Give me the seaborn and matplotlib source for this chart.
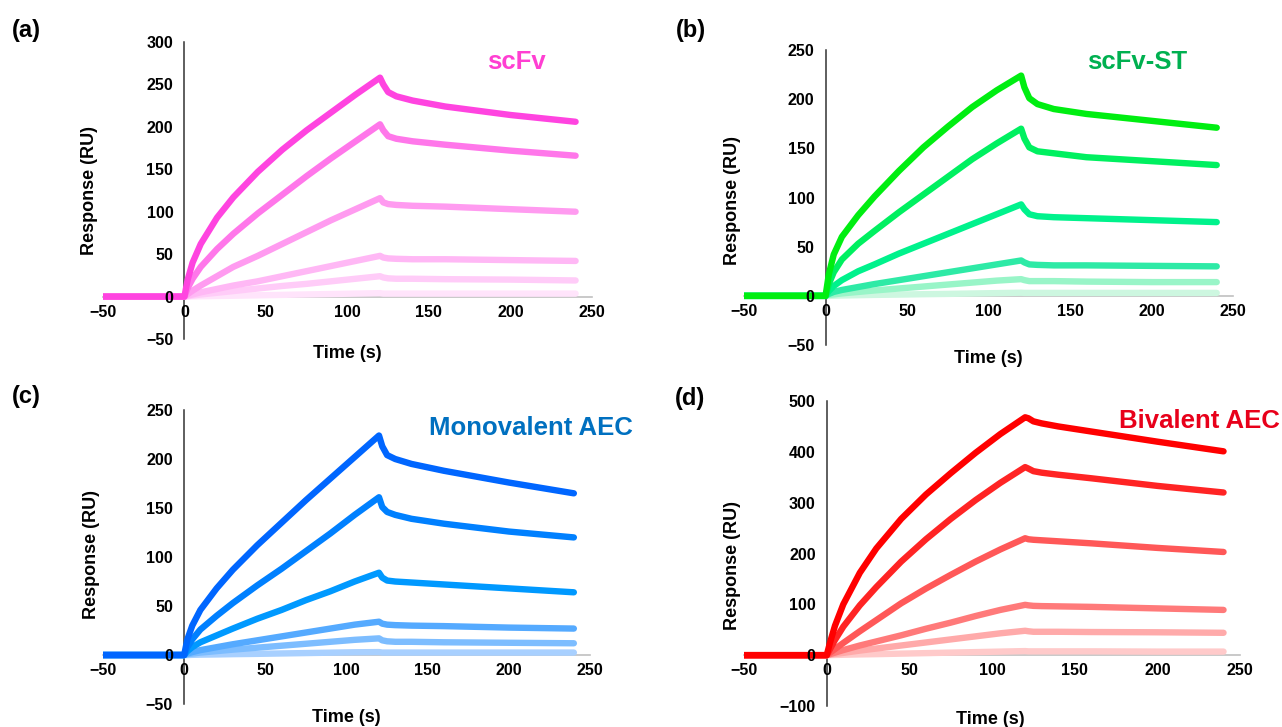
import numpy as np
import pandas as pd
import matplotlib
matplotlib.use("Agg")
import matplotlib.pyplot as plt
import seaborn as sns

# sampling times (s) shared by every sensorgram
time_s = [-50, 0, 2, 5, 10, 20, 30, 45, 60, 75, 90, 105, 120,
          122, 125, 130, 140, 160, 200, 240]

# (a) scFv, highest to lowest concentration
scfv = [
    [0, 0, 20, 40, 62, 93, 117, 147, 173, 196, 217, 238, 258, 250, 241, 236, 231, 224, 214, 206],
    [0, 0, 10, 21, 35, 56, 74, 98, 120, 142, 163, 183, 203, 196, 189, 186, 183, 179, 172, 166],
    [0, 0, 3, 7, 13, 24, 35, 48, 62, 76, 90, 103, 116, 111, 109, 108, 107, 106, 103, 100],
    [0, 0, 1, 2.5, 5, 9, 13, 18, 24, 30, 36, 42, 48, 46, 45, 44.5, 44, 44, 43, 42],
    [0, 0, 0.5, 1.2, 2.5, 4.5, 6.5, 9.5, 12.5, 15, 18, 21, 24, 22.5, 21.5, 21, 21, 20.5, 20, 19],
    [0, 0, 0, 0.2, 0.4, 0.7, 1, 1.5, 2, 2.5, 3, 3.5, 4, 3.5, 3.5, 3.5, 3.5, 3.5, 3.5, 3.5],
]

# (b) scFv-ST
scfv_st = [
    [0, 0, 22, 42, 60, 82, 101, 127, 151, 172, 192, 209, 224, 212, 201, 195, 190, 185, 178, 171],
    [0, 0, 12, 24, 37, 53, 66, 85, 103, 121, 139, 155, 170, 160, 151, 147, 145, 141, 137, 133],
    [0, 0, 5, 10, 16, 25, 32, 43, 53, 63, 73, 83, 93, 88, 83, 81, 80, 79, 77, 75],
    [0, 0, 2, 4, 6, 9, 12, 16, 20, 24, 28, 32, 36, 34, 32, 31.5, 31, 31, 30.5, 30],
    [0, 0, 1, 1.5, 2.5, 4, 5.5, 7.5, 9.5, 11.5, 13.5, 15.5, 17, 16, 15, 15, 15, 14.5, 14, 14],
    [0, 0, 0, 0.2, 0.4, 0.7, 1, 1.3, 1.7, 2, 2.4, 2.8, 3.2, 3, 3, 3, 3, 3, 3, 3],
]

# (c) Monovalent AEC
mono_aec = [
    [0, 0, 16, 30, 46, 68, 87, 112, 135, 158, 180, 202, 224, 213, 204, 200, 195, 188, 176, 165],
    [0, 0, 8, 16, 26, 40, 53, 71, 88, 106, 124, 143, 161, 151, 146, 143, 139, 134, 126, 120],
    [0, 0, 4, 8, 13, 20, 27, 37, 46, 56, 65, 75, 84, 79, 76, 75, 74, 72, 68, 64],
    [0, 0, 1.5, 3, 5, 8, 11, 15, 19, 23, 27, 31, 34, 32, 31, 30.5, 30, 29.5, 28, 27],
    [0, 0, 0.8, 1.5, 2.5, 4, 5.5, 7.5, 9.5, 11.5, 13.5, 15.5, 17, 15, 14, 13.5, 13.5, 13, 12.5, 12],
    [0, 0, 0, 0.2, 0.4, 0.6, 0.9, 1.2, 1.6, 2, 2.4, 2.8, 3, 2.5, 2.5, 2.5, 2.5, 2.5, 2.5, 2.5],
]

# (d) Bivalent AEC
bi_aec = [
    [0, 0, 25, 58, 100, 162, 210, 268, 316, 358, 398, 435, 468, 466, 460, 456, 450, 440, 420, 401],
    [0, 0, 12, 30, 56, 98, 134, 184, 228, 268, 305, 339, 370, 367, 362, 359, 355, 348, 333, 320],
    [0, 0, 5, 12, 24, 47, 69, 102, 131, 158, 184, 208, 230, 228, 227, 226, 224, 220, 211, 203],
    [0, 0, 2, 5, 10, 19, 27, 39, 52, 64, 77, 89, 99, 98, 97, 96.5, 96, 95, 92, 89],
    [0, 0, 1, 2.5, 4.5, 9, 13, 19, 25, 31, 37, 43, 48, 47, 46, 46, 46, 45.5, 45, 44],
    [0, 0, 0.2, 0.4, 0.8, 1.5, 2, 3, 4, 5, 6, 7, 8, 7.5, 7.5, 7.5, 7.5, 7.5, 7, 7],
]

pink = ["#ff44e0", "#ff77ea", "#ff9bf0", "#ffb8f5", "#ffccf8", "#ffe4fb"]
green = ["#00ee11", "#00f060", "#00f28c", "#2eeaa6", "#99f5c8", "#cdf7e0"]
blue = ["#0066ff", "#0080ff", "#0099ff", "#55aaff", "#7dbdff", "#a8d0ff"]
red = ["#ff0000", "#ff2424", "#ff5858", "#ff7a7a", "#ffaaaa", "#ffcaca"]

panels = [
    dict(tag="(a)", name="scFv", data=scfv, pal=pink, title_color="#ff3fd2",
         ylim=(-50, 300), yticks=[-50, 0, 50, 100, 150, 200, 250, 300],
         rect=[0.0803, 0.5337, 0.3814, 0.4085], title_xy=(516, 62), tag_xy=(26, 31),
         ylab=(-0.010, 0.50), xlab=(0.5, -0.020)),
    dict(tag="(b)", name="scFv-ST", data=scfv_st, pal=green, title_color="#00b050",
         ylim=(-50, 250), yticks=[-50, 0, 50, 100, 150, 200, 250],
         rect=[0.5804, 0.5254, 0.3814, 0.4058], title_xy=(1137, 62), tag_xy=(691, 31),
         ylab=(-0.006, 0.49), xlab=(0.5, -0.017)),
    dict(tag="(c)", name="Monovalent AEC", data=mono_aec, pal=blue, title_color="#0070c0",
         ylim=(-50, 250), yticks=[-50, 0, 50, 100, 150, 200, 250],
         rect=[0.0803, 0.0316, 0.3800, 0.4044], title_xy=(531, 428), tag_xy=(26, 397),
         ylab=(-0.006, 0.507), xlab=(0.5, -0.017)),
    dict(tag="(d)", name="Bivalent AEC", data=bi_aec, pal=red, title_color="#e8001a",
         ylim=(-100, 500), yticks=[-100, 0, 100, 200, 300, 400, 500],
         rect=[0.5804, 0.0289, 0.3869, 0.4195], title_xy=(1199, 421), tag_xy=(690, 398),
         ylab=(-0.006, 0.46), xlab=(0.496, -0.016)),
]

sns.set_style("white")
plt.rcParams["font.family"] = ["Liberation Sans", "DejaVu Sans"]
plt.rcParams["font.weight"] = "bold"
plt.rcParams["text.color"] = "black"
plt.rcParams["axes.labelcolor"] = "black"
plt.rcParams["xtick.color"] = "black"
plt.rcParams["ytick.color"] = "black"

W, H = 1282, 727
fig = plt.figure(figsize=(W / 100, H / 100), dpi=100)

for p in panels:
    ax = fig.add_axes(p["rect"])
    rows = []
    for i, curve in enumerate(p["data"]):
        for t, v in zip(time_s, curve):
            rows.append({"Time": t, "Response": v, "Conc": i})
    df = pd.DataFrame(rows)
    # lightest first so the darkest curve sits on top
    order = list(range(len(p["data"])))[::-1]
    sns.lineplot(data=df, x="Time", y="Response", hue="Conc", hue_order=order,
                 palette=[p["pal"][i] for i in order], estimator=None, sort=False,
                 legend=False, linewidth=4.6, solid_capstyle="round",
                 solid_joinstyle="round", ax=ax, zorder=3)

    ax.set_xlim(-50, 250)
    ax.set_ylim(*p["ylim"])
    ax.set_xticks([-50, 0, 50, 100, 150, 200, 250])
    ax.set_yticks(p["yticks"])
    ax.spines["left"].set_position(("data", 0))
    ax.spines["bottom"].set_position(("data", 0))
    ax.spines["left"].set_color("#333333")
    ax.spines["left"].set_linewidth(1.1)
    ax.spines["bottom"].set_color("#c0c0c0")
    ax.spines["bottom"].set_linewidth(1.2)
    for s in ["top", "right"]:
        ax.spines[s].set_visible(False)
    ax.tick_params(axis="x", length=0, pad=6, labelsize=11.5, labelcolor="black")
    ax.tick_params(axis="y", length=0, pad=8, labelsize=11.5, labelcolor="black")
    for lab in ax.get_xticklabels() + ax.get_yticklabels():
        lab.set_fontweight("bold")
    ax.xaxis.set_zorder(5)
    ax.yaxis.set_zorder(5)

    ax.set_xlabel("Time (s)", fontsize=13, fontweight="bold", color="black")
    ax.set_ylabel("Response (RU)", fontsize=13, fontweight="bold", color="black")
    ax.yaxis.set_label_coords(*p["ylab"])
    ax.xaxis.set_label_coords(*p["xlab"])
    ax.patch.set_alpha(0)

    fig.text(p["title_xy"][0] / W, 1 - p["title_xy"][1] / H, p["name"],
             color=p["title_color"], fontsize=18.5, fontweight="bold",
             ha="center", va="center")
    fig.text(p["tag_xy"][0] / W, 1 - p["tag_xy"][1] / H, p["tag"],
             fontsize=17, fontweight="bold", ha="center", va="center", color="black")

fig.savefig("out.png", dpi=100)
